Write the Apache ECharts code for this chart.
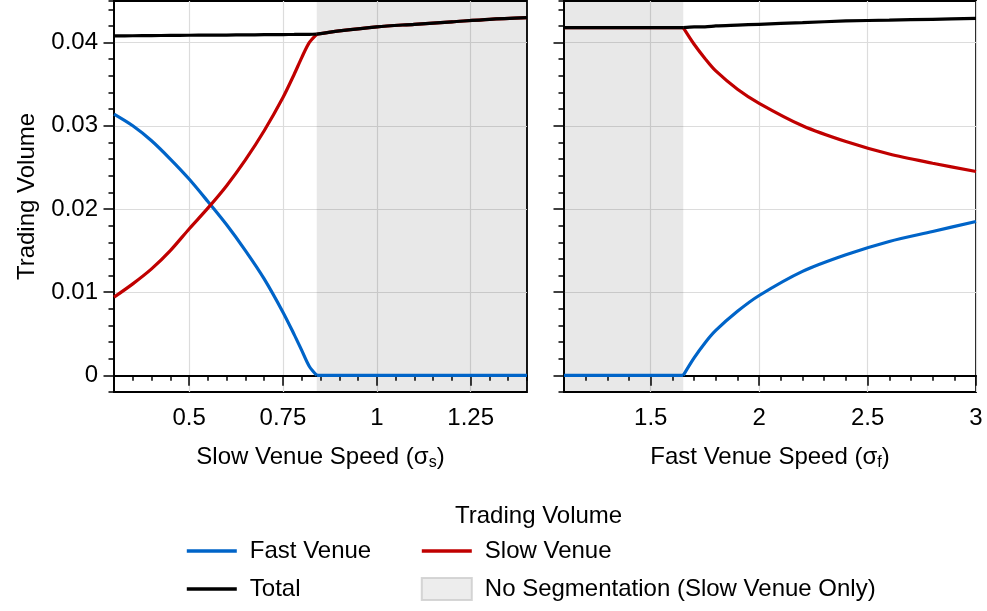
<!DOCTYPE html>
<html>
<head>
<meta charset="utf-8">
<script src="https://cdn.jsdelivr.net/npm/echarts@6/dist/echarts.min.js"></script>
<style>html,body{margin:0;padding:0;background:#fff}#c{width:987px;height:611px}</style>
</head>
<body>
<div id="c"></div>
<script>
// ---- Data ----
const leftX     = [0.30,0.35,0.40,0.45,0.50,0.55,0.60,0.65,0.70,0.75,0.78,0.80,0.82,0.84,0.90,1.00,1.10,1.20,1.30,1.40];
const leftFast  = [0.0314,0.0300,0.0282,0.0260,0.0236,0.0209,0.0181,0.0150,0.0116,0.0076,0.0049,0.0030,0.0011,0,0,0,0,0,0,0];
const leftSlow  = [0.0094,0.0110,0.0128,0.0150,0.0176,0.0201,0.0228,0.0259,0.0294,0.0334,0.0362,0.0382,0.0400,0.0410,0.0414,0.0419,0.0422,0.0425,0.0428,0.0430];
const leftTotal = [0.04080,0.04082,0.04084,0.04086,0.04088,0.04090,0.04091,0.04093,0.04095,0.04097,0.04098,0.04099,0.04100,0.04101,0.0414,0.0419,0.0422,0.0425,0.0428,0.0430];

const rightX     = [1.10,1.20,1.30,1.40,1.50,1.60,1.65,1.70,1.75,1.80,1.90,2.00,2.20,2.40,2.60,2.80,3.00];
const rightFast  = [0,0,0,0,0,0,0,0.0021,0.0039,0.0054,0.0077,0.0096,0.0125,0.0145,0.0161,0.0173,0.0185];
const rightSlow  = [0.0418,0.0418,0.0418,0.0418,0.0418,0.0418,0.0418,0.0398,0.0381,0.0366,0.0344,0.0327,0.0300,0.0281,0.0266,0.0255,0.0245];
const rightTotal = [0.0418,0.0418,0.0418,0.0418,0.0418,0.0418,0.0418,0.0419,0.0419,0.0420,0.0421,0.0422,0.0424,0.0426,0.0427,0.0428,0.0429];

const shadeLeft  = [0.84, 1.40];
const shadeRight = [1.10, 1.65];

const leftMajorTicks  = [0.5, 0.75, 1, 1.25];
const rightMajorTicks = [1.5, 2, 2.5, 3];
const yMajorTicks     = [0, 0.01, 0.02, 0.03, 0.04];

const seriesNames = ['Fast Venue', 'Slow Venue', 'Total', 'No Segmentation (Slow Venue Only)'];
const colors = {'Fast Venue': '#0064c8', 'Slow Venue': '#c00000', 'Total': '#000000'};

// ---- Chart ----
const FONT = '"Liberation Sans", Arial, Helvetica, sans-serif';
const pair = (xs, ys, a, b) => xs.slice(a, b).map((x, i) => [x, ys[a + i]]);
const fmt = v => String(+(+v).toFixed(4));
const LEFT_KINK = leftX.indexOf(shadeLeft[0]);
const RIGHT_KINK = rightX.indexOf(shadeRight[1]);
const GRIDLINE = {color: '#dcdcdc', width: 1.2};

function minorX(grid, min, max, step) {
  return {
    type: 'value', gridIndex: grid, position: 'bottom', min: min, max: max, interval: step,
    axisLine: {show: true, lineStyle: {color: '#000', width: 1.8}},
    axisTick: {show: true, length: 5.5, lineStyle: {color: '#000', width: 1.5}},
    axisLabel: {show: false}, splitLine: {show: false}
  };
}
function majorX(grid, min, max, ticks, name) {
  return {
    type: 'value', gridIndex: grid, position: 'bottom', min: min, max: max,
    axisLine: {show: false},
    axisTick: {show: true, length: 10.5, customValues: ticks, lineStyle: {color: '#000', width: 1.5}},
    axisLabel: {show: true, customValues: ticks, formatter: fmt, margin: 14, fontSize: 24, color: '#000', fontFamily: FONT},
    splitLine: {show: true, lineStyle: GRIDLINE},
    name: name, nameLocation: 'middle', nameGap: 51,
    nameTextStyle: {fontSize: 24, color: '#000', fontFamily: FONT,
      rich: {sub: {fontSize: 16, color: '#000', fontFamily: FONT, padding: [12, 0, 0, 0]}}}
  };
}
function minorY(grid) {
  return {
    type: 'value', gridIndex: grid, position: 'left', min: -0.002, max: 0.045, interval: 0.002,
    axisLine: {show: true, lineStyle: {color: '#000', width: 1.8}},
    axisTick: {show: true, length: 5.5, lineStyle: {color: '#000', width: 1.5}},
    axisLabel: {show: false}, splitLine: {show: false}
  };
}
function majorY(grid, labels) {
  return {
    type: 'value', gridIndex: grid, position: 'left', min: -0.002, max: 0.045,
    axisLine: {show: false},
    axisTick: {show: true, length: 10.5, customValues: yMajorTicks, lineStyle: {color: '#000', width: 1.5}},
    axisLabel: {show: labels, customValues: yMajorTicks, formatter: fmt, margin: 16, fontSize: 24, color: '#000', fontFamily: FONT},
    splitLine: {show: true, lineStyle: GRIDLINE},
    name: labels ? 'Trading Volume' : '', nameLocation: 'middle', nameGap: 75,
    nameTextStyle: {fontSize: 24, color: '#000', fontFamily: FONT}
  };
}

function seg(name, xi, yi, data, z, smooth) {
  return {
    name: name, type: 'line', xAxisIndex: xi, yAxisIndex: yi, data: data,
    symbol: 'none', smooth: smooth, z: z,
    lineStyle: {color: colors[name], width: 3.2}, itemStyle: {color: colors[name]}
  };
}
function shadeSeries(xi, yi, range) {
  return {
    name: seriesNames[3], type: 'scatter', xAxisIndex: xi, yAxisIndex: yi, data: [], z: 1,
    itemStyle: {color: '#e8e8e8', borderColor: '#cccccc', borderWidth: 1},
    markArea: {silent: true, itemStyle: {color: 'rgba(0,0,0,0.09)'},
      data: [[{xAxis: range[0]}, {xAxis: range[1]}]]}
  };
}

const N_L = leftX.length, N_R = rightX.length;
const hideSym = {opacity: 0};
const legendCommon = {orient: 'vertical', top: 539, padding: 0, itemWidth: 50, itemHeight: 22, itemGap: 14,
  lineStyle: {width: 3.6},
  textStyle: {fontSize: 24, color: '#000', fontFamily: FONT, padding: [0, 0, 0, 8]}};

const option = {
  animation: false,
  backgroundColor: '#fff',
  textStyle: {fontFamily: FONT},
  grid: [
    {left: 114, right: 460, top: 1, bottom: 219, show: true, borderColor: '#000', borderWidth: 1.8, backgroundColor: 'transparent'},
    {left: 564, right: 11, top: 1, bottom: 219, show: true, borderColor: '#000', borderWidth: 1.8, backgroundColor: 'transparent'}
  ],
  xAxis: [
    minorX(0, 0.3, 1.4, 0.05),
    majorX(0, 0.3, 1.4, leftMajorTicks, 'Slow Venue Speed (σ{sub|s})'),
    minorX(1, 1.1, 3, 0.1),
    majorX(1, 1.1, 3, rightMajorTicks, 'Fast Venue Speed (σ{sub|f})')
  ],
  yAxis: [minorY(0), majorY(0, true), minorY(1), majorY(1, false)],
  title: {text: 'Trading Volume', left: 455, top: 504, padding: 0,
    textStyle: {fontSize: 24, fontWeight: 'normal', color: '#000', fontFamily: FONT}},
  legend: [
    Object.assign({}, legendCommon, {left: 185,
      data: [{name: 'Fast Venue', itemStyle: hideSym}, {name: 'Total', itemStyle: hideSym}]}),
    Object.assign({}, legendCommon, {left: 420,
      data: [{name: 'Slow Venue', itemStyle: hideSym}, {name: seriesNames[3], icon: 'rect'}]})
  ],
  series: [
    shadeSeries(0, 0, shadeLeft),
    seg('Fast Venue', 0, 0, pair(leftX, leftFast, 0, LEFT_KINK + 1), 3, 0.3),
    seg('Fast Venue', 0, 0, pair(leftX, leftFast, LEFT_KINK, N_L), 3, false),
    seg('Slow Venue', 0, 0, pair(leftX, leftSlow, 0, LEFT_KINK + 1), 4, 0.3),
    seg('Slow Venue', 0, 0, pair(leftX, leftSlow, LEFT_KINK, N_L), 4, 0.3),
    seg('Total', 0, 0, pair(leftX, leftTotal, 0, LEFT_KINK + 1), 5, 0.3),
    seg('Total', 0, 0, pair(leftX, leftTotal, LEFT_KINK, N_L), 5, 0.3),
    shadeSeries(2, 2, shadeRight),
    seg('Fast Venue', 2, 2, pair(rightX, rightFast, 0, RIGHT_KINK + 1), 3, false),
    seg('Fast Venue', 2, 2, pair(rightX, rightFast, RIGHT_KINK, N_R), 3, 0.3),
    seg('Slow Venue', 2, 2, pair(rightX, rightSlow, 0, RIGHT_KINK + 1), 4, false),
    seg('Slow Venue', 2, 2, pair(rightX, rightSlow, RIGHT_KINK, N_R), 4, 0.3),
    seg('Total', 2, 2, pair(rightX, rightTotal, 0, RIGHT_KINK + 1), 5, false),
    seg('Total', 2, 2, pair(rightX, rightTotal, RIGHT_KINK, N_R), 5, 0.3)
  ]
};
const chart = echarts.init(document.getElementById('c'), null, {renderer: 'canvas'});
chart.setOption(option);
</script>
</body>
</html>
